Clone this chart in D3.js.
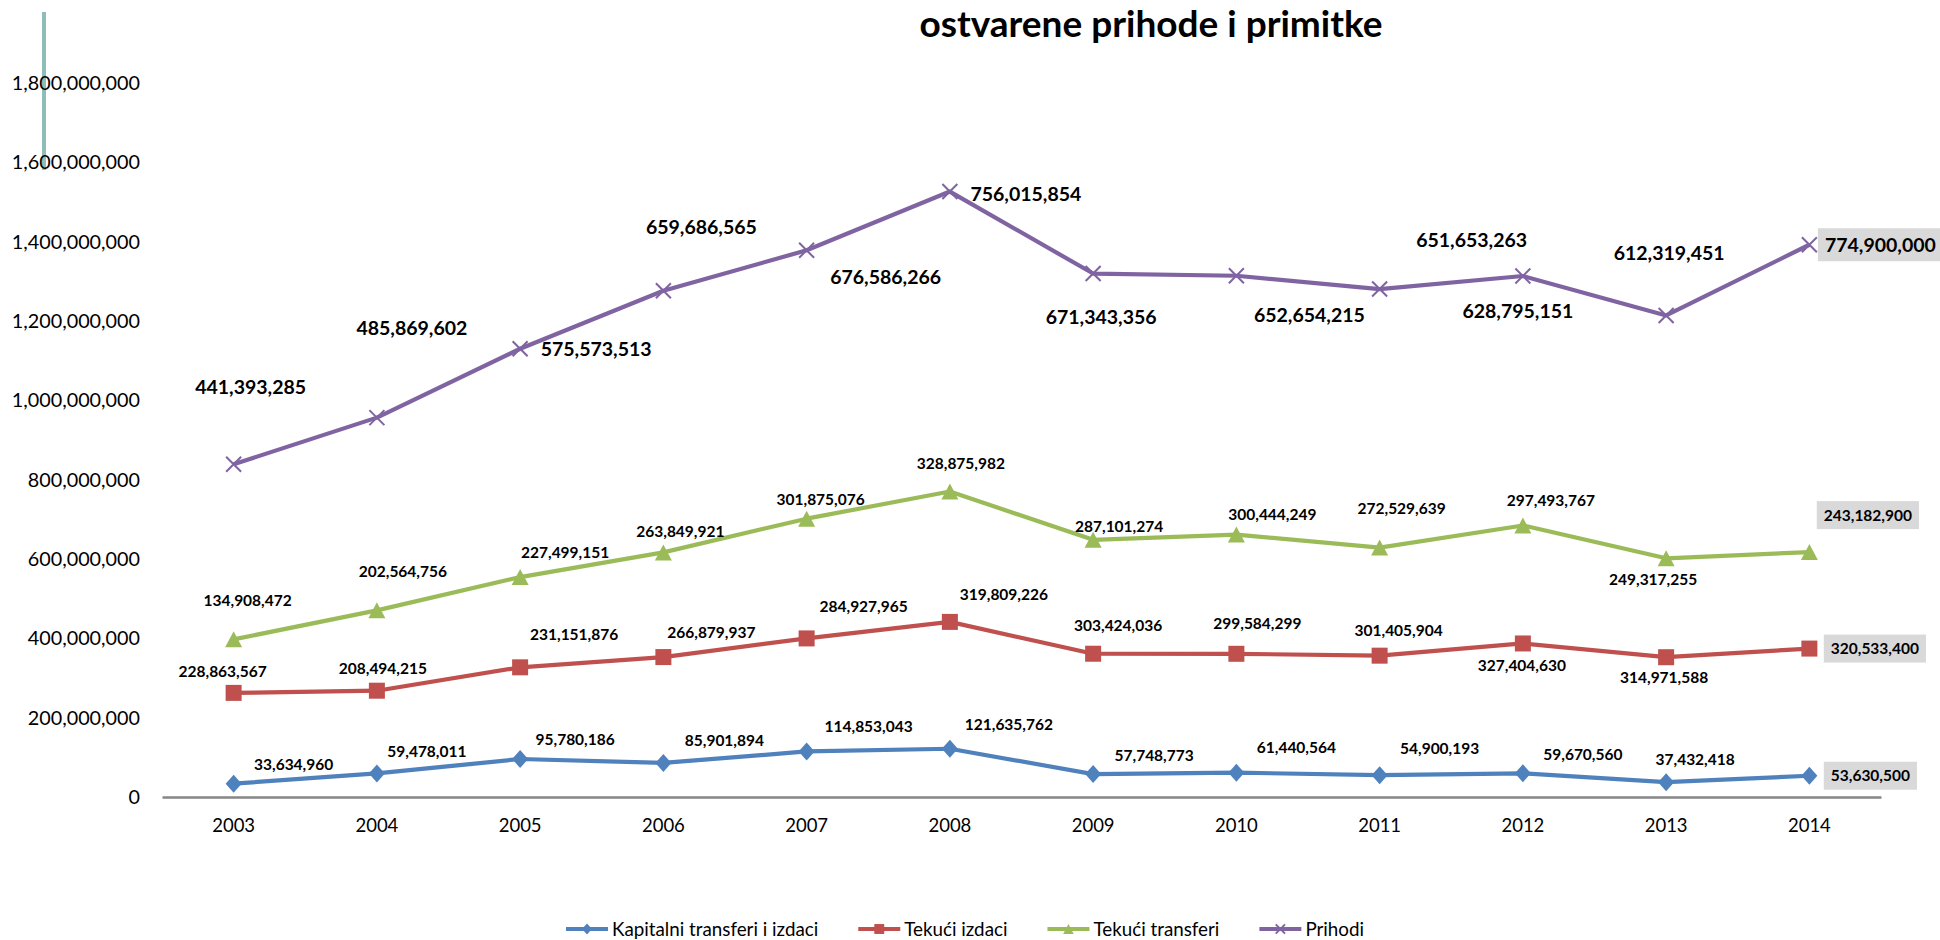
<!DOCTYPE html>
<html>
<head>
<meta charset="utf-8">
<script src="https://cdn.jsdelivr.net/npm/d3@7"></script>
<style>
  html, body { margin: 0; padding: 0; background: #ffffff; }
  svg { display: block; font-family: Lato, "Open Sans", sans-serif; }
</style>
</head>
<body>
<svg id="chart" width="1940" height="940"></svg>
<script>
// ---------- data ----------
const years = ["2003","2004","2005","2006","2007","2008","2009","2010","2011","2012","2013","2014"];
const seriesNames = ["Kapitalni transferi i izdaci", "Tekući izdaci", "Tekući transferi", "Prihodi"];
const kapitalni = [33634960, 59478011, 95780186, 85901894, 114853043, 121635762, 57748773, 61440564, 54900193, 59670560, 37432418, 53630500];
const tekuciIzdaci = [228863567, 208494215, 231151876, 266879937, 284927965, 319809226, 303424036, 299584299, 301405904, 327404630, 314971588, 320533400];
const tekuciTransferi = [134908472, 202564756, 227499151, 263849921, 301875076, 328875982, 287101274, 300444249, 272529639, 297493767, 249317255, 243182900];
const prihodi = [441393285, 485869602, 575573513, 659686565, 676586266, 756015854, 671343356, 652654215, 651653263, 628795151, 612319451, 774900000];
const yTicks = [0, 200000000, 400000000, 600000000, 800000000, 1000000000, 1200000000, 1400000000, 1600000000, 1800000000];
const titleText = "ostvarene prihode i primitke";

// ---------- layout (label offsets in px, relative to each point) ----------
const labelOffsets = [
  [[60,-19],[50,-22],[55,-20],[61,-23],[62,-25],[59,-24],[61,-19],[60,-25],[60,-27],[60,-19],[29,-23],[61,0]],
  [[-11,-21],[6,-22],[54,-33],[48,-25],[57,-32],[54,-27],[25,-28],[21,-30],[19,-25],[-1,22],[-2,20],[65.5,0]],
  [[14,-39],[26,-39],[45,-25],[17,-21],[14,-19],[11,-28],[26,-13],[36,-20],[22,-39],[28,-25],[-13,21],[58.5,-37]],
  [[17,-77],[35,-90],[76,0],[38,-64],[79,27],[76,2],[8,43],[73,39],[92,-49],[-5,35],[3,-62],[71,0]]
];
const colors = ["#4f81bd", "#c0504d", "#9bbb59", "#8064a2"];
const keys = ["kap", "ti", "tt", "pr"];

const rows = years.map((y, i) => ({
  year: y, kap: kapitalni[i], ti: tekuciIzdaci[i], tt: tekuciTransferi[i], pr: prihodi[i]
}));
const stacked = d3.stack().keys(keys)(rows);

const svg = d3.select("#chart");
const x = d3.scaleBand().domain(years).range([162, 1881]);
const xc = d => x(d) + x.bandwidth() / 2;
const y = d3.scaleLinear().domain([0, 1800000000]).range([797, 83]);
const fmt = d3.format(",");

// teal artifact line
svg.append("line").attr("x1", 44).attr("x2", 44).attr("y1", 12).attr("y2", 170)
  .attr("stroke", "#8fbdb9").attr("stroke-width", 4);

// title
svg.append("text").attr("x", 1151).attr("y", 37).attr("text-anchor", "middle")
  .attr("font-size", 37).attr("font-weight", 700).attr("fill", "#000").text(titleText);

// y axis
const yAxis = d3.axisLeft(y).tickValues(yTicks).tickSize(0).tickPadding(0).tickFormat(fmt);
const gy = svg.append("g").attr("transform", "translate(140,0)").call(yAxis);
gy.select(".domain").remove();
gy.selectAll("text").attr("font-size", 19.8).attr("fill", "#000").attr("font-family", "Lato, sans-serif");

// x axis
const xAxis = d3.axisBottom(x).tickSize(0).tickPadding(21.5);
const gx = svg.append("g").attr("transform", "translate(0,797)").call(xAxis);
gx.select(".domain").attr("stroke", "#868686").attr("stroke-width", 2.5);
gx.selectAll("text").attr("font-size", 18.5).attr("fill", "#000").attr("font-family", "Lato, sans-serif");

// markers
function drawMarker(g, idx, size) {
  const s = size;
  if (idx === 0) {
    g.append("path").attr("d", `M0,${-9*s} L${8*s},0 L0,${9*s} L${-8*s},0 Z`).attr("fill", colors[0]);
  } else if (idx === 1) {
    g.append("rect").attr("x", -8*s).attr("y", -8*s).attr("width", 16*s).attr("height", 16*s).attr("fill", colors[1]);
  } else if (idx === 2) {
    g.append("path").attr("d", `M0,${-8*s} L${8.5*s},${8*s} L${-8.5*s},${8*s} Z`).attr("fill", colors[2]);
  } else {
    g.append("path").attr("d", `M${-7.5*s},${-7.5*s} L${7.5*s},${7.5*s} M${7.5*s},${-7.5*s} L${-7.5*s},${7.5*s}`)
      .attr("stroke", colors[3]).attr("stroke-width", 2).attr("fill", "none");
  }
}

const line = d3.line().x(d => xc(d.data.year)).y(d => y(d[1]));

stacked.forEach((layer, si) => {
  const g = svg.append("g");
  g.append("path").datum(layer).attr("d", line)
    .attr("fill", "none").attr("stroke", colors[si]).attr("stroke-width", 4.2)
    .attr("stroke-linejoin", "round");
  layer.forEach(d => {
    const m = g.append("g").attr("transform", `translate(${xc(d.data.year)},${y(d[1])})`);
    drawMarker(m, si, 1);
  });
});

// labels
const sourceArrays = [kapitalni, tekuciIzdaci, tekuciTransferi, prihodi];
stacked.forEach((layer, si) => {
  const g = svg.append("g");
  const fs = si === 3 ? 19.5 : 15.5;
  layer.forEach((d, i) => {
    const px = xc(d.data.year) + labelOffsets[si][i][0];
    const py = y(d[1]) + labelOffsets[si][i][1];
    const last = i === years.length - 1;
    let rect = null;
    if (last) rect = g.append("rect").attr("fill", "#d9d9d9");
    const t = g.append("text").attr("x", px).attr("y", py).attr("dy", "0.36em")
      .attr("text-anchor", "middle").attr("font-size", fs).attr("font-weight", 700)
      .attr("fill", "#000").text(fmt(sourceArrays[si][i]));
    if (last) {
      const bb = t.node().getBBox();
      const h = si === 3 ? 33 : 28;
      rect.attr("x", bb.x - 7).attr("y", py - h / 2).attr("width", bb.width + 14).attr("height", h);
    }
  });
});

// legend
const legend = svg.append("g");
const legendItems = seriesNames.map((n, i) => ({ name: n, i }));
let lx = 0;
const lg = legend.append("g");
legendItems.forEach(it => {
  const g = lg.append("g").attr("transform", `translate(${lx},0)`);
  g.append("line").attr("x1", 0).attr("x2", 42).attr("y1", 0).attr("y2", 0)
    .attr("stroke", colors[it.i]).attr("stroke-width", 4);
  const m = g.append("g").attr("transform", "translate(21,0)");
  drawMarker(m, it.i, 0.62);
  const t = g.append("text").attr("x", 46).attr("y", 0).attr("dy", "0.35em")
    .attr("font-size", 18.8).attr("fill", "#000").text(it.name);
  lx += 46 + t.node().getComputedTextLength() + 40;
});
const totalW = lx - 40;
lg.attr("transform", `translate(${965 - totalW / 2},929)`);
</script>
</body>
</html>
